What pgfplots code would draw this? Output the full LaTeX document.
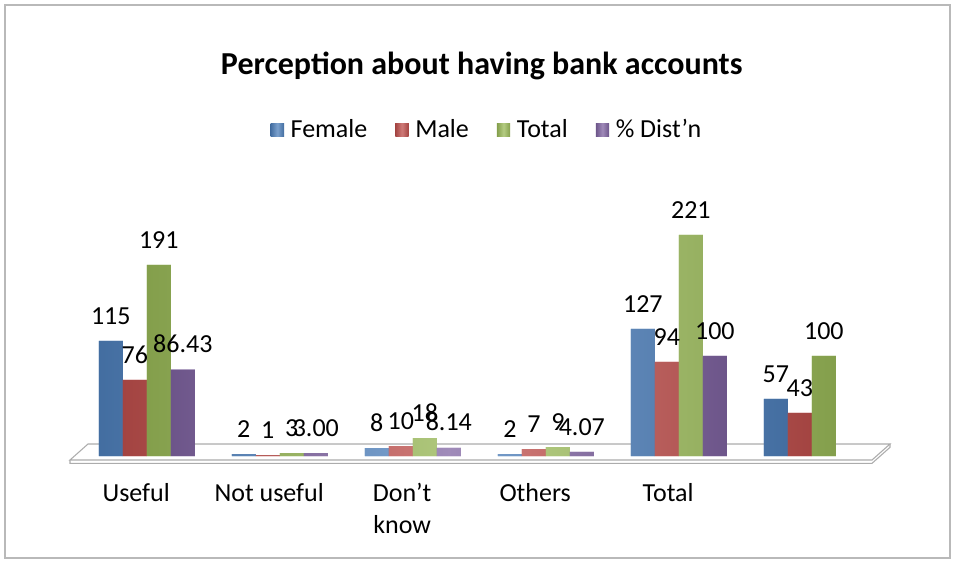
\documentclass[border=0pt]{standalone}
\usepackage{pgfplots}
\pgfplotsset{compat=1.18}
\usepackage{fontspec}
\setmainfont{Carlito}
\definecolor{cF}{HTML}{4F81BD}
\definecolor{cM}{HTML}{C0504D}
\definecolor{cT}{HTML}{9BBB59}
\definecolor{cD}{HTML}{8064A2}
\pgfplotsset{cyl/.style={draw=none, fill=#1, left color=#1!85!black, right color=#1!85!black, middle color=#1!75!white}}
\begin{document}
\begin{tikzpicture}[x=1pt,y=1pt]
\path[use as bounding box] (0,0) rectangle (717,423);
\draw[gray!55, line width=1pt] (3.75,4.5) rectangle (712.5,419.25);
\filldraw[fill=white, draw=gray!65, line width=0.8pt] (52.5,78) -- (654,78) -- (667.5,90) -- (66,90) -- cycle;
\draw[gray!65, line width=0.8pt] (52.5,78) -- (52.5,75.5) -- (654,75.5) -- (667.5,87.5) -- (667.5,90);
\begin{axis}[at={(60.4,108)}, anchor=south west, scale only axis,
  width=598.5pt, height=187.5pt,
  xmin=-0.5, xmax=5.5, ymin=0, ymax=250,
  ybar=0pt, bar width=18pt,
  axis line style={draw=none}, major tick length=0pt,
  ytick=\empty,
  xtick={0,1,2,3,4,5},
  xticklabels={Useful,Not useful,{Don’t\\know},Others,Total,{}},
  xticklabel style={font=\fontsize{19.5}{24}\selectfont, align=center, anchor=north, xshift=-8pt, yshift=-17pt},
  clip=false,
  title={Perception about having bank accounts},
  title style={font=\fontsize{24}{28}\selectfont\bfseries, at={(0.503,1.53)}, anchor=center},
  legend columns=4,
  legend style={draw=none, fill=none, font=\fontsize{19.5}{24}\selectfont, at={(0.51,1.305)}, anchor=center,
    /tikz/every even column/.append style={column sep=19pt},
    /tikz/every odd column/.append style={column sep=3pt}},
  legend image code/.code={\fill[#1] (0pt,-5pt) rectangle (10pt,5pt);},
  nodes near coords,
  point meta=explicit symbolic,
  every node near coord/.append style={font=\fontsize{19.5}{24}\selectfont, text=black, yshift=9pt},
]
\addplot[cyl=cF] coordinates {(0,115)[115] (1,2)[2] (2,8)[8] (3,2)[2] (4,127)[127] (5,57)[57]};
\addplot[cyl=cM] coordinates {(0,76)[76] (1,1)[1] (2,10)[10] (3,7)[7] (4,94)[94] (5,43)[43]};
\addplot[cyl=cT] coordinates {(0,191)[191] (1,3)[3] (2,18)[18] (3,9)[9] (4,221)[221] (5,100)[100]};
\addplot[cyl=cD] coordinates {(0,86.43)[86.43] (1,3)[3.00] (2,8.14)[8.14] (3,4.07)[4.07] (4,100)[100]};
\legend{Female,Male,Total,\% Dist\symbol{39}n}
\end{axis}
\end{tikzpicture}
\end{document}
